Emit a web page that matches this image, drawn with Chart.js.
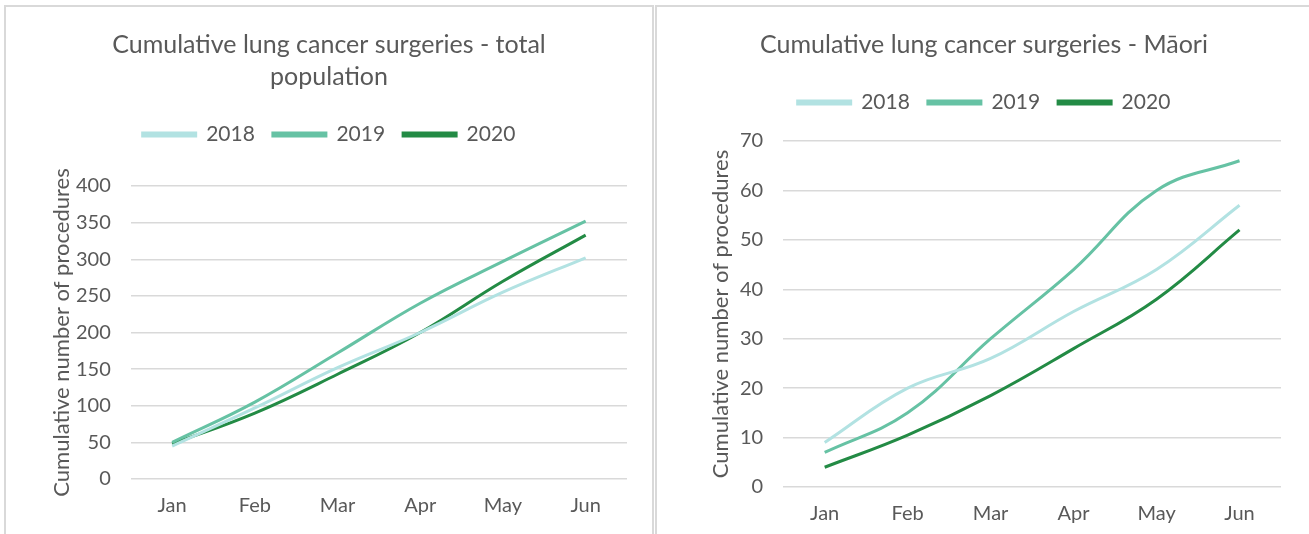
<!DOCTYPE html>
<html>
<head>
<meta charset="utf-8">
<script src="https://cdn.jsdelivr.net/npm/chart.js@4"></script>
<style>
  html, body { margin: 0; padding: 0; background: #fff; overflow: hidden; }
  body { width: 1309px; height: 534px; position: relative; }
  .painel { position: absolute; border: 2px solid #d9d9d9; box-sizing: border-box; }
  #painelTotal { left: 4px; top: 5px; width: 650px; height: 545px; }
  #painelMaori { left: 655px; top: 5px; width: 670px; height: 545px; }
</style>
</head>
<body>
<div class="painel" id="painelTotal"><canvas id="graficoTotal"></canvas></div>
<div class="painel" id="painelMaori"><canvas id="graficoMaori"></canvas></div>
<script>
// meses (eixo X)
const meses = ['Jan', 'Feb', 'Mar', 'Apr', 'May', 'Jun'];
const anos = ['2018', '2019', '2020'];

// total population - cumulativo
const total2018 = [45, 97, 152, 200, 255, 302];
const total2019 = [50, 105, 172, 240, 297, 352];
const total2020 = [48, 90, 143, 200, 270, 333];

// Maori - cumulativo
const maori2018 = [9, 20, 26, 35.5, 44, 57];
const maori2019 = [7, 15, 30, 44, 60, 66];
const maori2020 = [4, 10.5, 18.5, 28, 38, 52];

const cores = ['#b2e2e2', '#66c2a4', '#238b45'];
const corTexto = '#595959';
const fonte = 'Lato';

// espaco extra abaixo da legenda (a legenda do Chart.js nao tem margem propria)
const espacoLegenda = {
  id: 'espacoLegenda',
  beforeInit(chart, args, opts) {
    const fitOriginal = chart.legend.fit;
    chart.legend.fit = function () {
      fitOriginal.call(this);
      this.height += opts.extra || 0;
    };
  }
};

// tituloY = padding do titulo do eixo Y (top afasta da borda, bottom aproxima os ticks)
function montarGrafico(id, titulo, series, maxY, passo, pad, extraLegenda, tituloY) {
  const ctx = document.getElementById(id).getContext('2d');
  return new Chart(ctx, {
    type: 'line',
    data: {
      labels: meses,
      datasets: series.map((s, i) => ({
        label: anos[i],
        data: s,
        borderColor: cores[i],
        backgroundColor: cores[i],
        borderWidth: 3,
        pointRadius: 0,
        tension: 0.4,
        fill: false
      }))
    },
    plugins: [espacoLegenda],
    options: {
      responsive: true,
      maintainAspectRatio: false,
      animation: false,
      layout: { padding: pad },
      plugins: {
        espacoLegenda: { extra: extraLegenda },
        title: {
          display: true,
          text: titulo,
          color: corTexto,
          font: { family: fonte, size: 25, weight: 'normal', lineHeight: 1.28 },
          padding: { top: 0, bottom: 13 }
        },
        legend: {
          labels: {
            color: corTexto,
            font: { family: fonte, size: 21 },
            boxWidth: 53,
            boxHeight: 3,
            padding: 18
          }
        },
        tooltip: { enabled: false }
      },
      scales: {
        x: {
          offset: true,
          grid: { display: false, drawTicks: false },
          border: { display: false },
          ticks: { color: corTexto, font: { family: fonte, size: 20 }, padding: 15 }
        },
        y: {
          min: 0,
          max: maxY,
          ticks: { stepSize: passo, color: corTexto, font: { family: fonte, size: 20 }, padding: 20 },
          grid: { color: '#d9d9d9', lineWidth: 1.5, drawTicks: false },
          border: { display: false },
          title: {
            display: true,
            text: 'Cumulative number of procedures',
            color: corTexto,
            font: { family: fonte, size: 22, lineHeight: 1 },
            padding: tituloY
          }
        }
      }
    }
  });
}

montarGrafico('graficoTotal',
  ['Cumulative lung cancer surgeries - total', 'population'],
  [total2018, total2019, total2020], 400, 50,
  { top: 22, left: 25, right: 25, bottom: 15 }, 31, { top: 20, bottom: -17 });

montarGrafico('graficoMaori',
  'Cumulative lung cancer surgeries - M\u0101ori',
  [maori2018, maori2019, maori2020], 70, 10,
  { top: 22, left: 30, right: 42, bottom: 7 }, 18, { top: 23, bottom: -12 });
</script>
</body>
</html>
